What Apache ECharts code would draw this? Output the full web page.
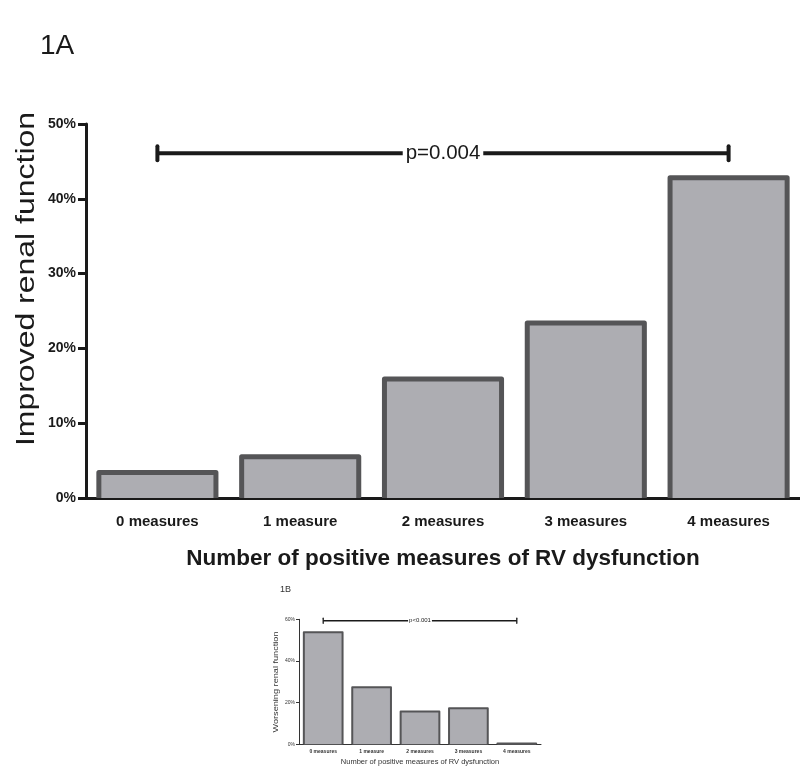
<!DOCTYPE html>
<html>
<head>
<meta charset="utf-8">
<script src="https://cdn.jsdelivr.net/npm/echarts@6/dist/echarts.min.js"></script>
<style>
html,body{margin:0;padding:0;background:#fff;}
#chart{width:800px;height:771px;}
</style>
</head>
<body>
<div id="chart"></div>
<script>
// ---- Data ----
const categoriesA = ['0 measures', '1 measure', '2 measures', '3 measures', '4 measures'];
const valuesA = [3.4, 5.5, 15.9, 23.4, 42.8];
const bracketA = [[0, 4, 46.1]];
const pLabelA = 'p=0.004';

const categoriesB = ['0 measures', '1 measure', '2 measures', '3 measures', '4 measures'];
const valuesB = [53.8, 27.4, 15.7, 17.3, 0.4];
const bracketB = [[0, 4, 59.3]];
const pLabelB = 'p<0.001';

const FONT = 'Liberation Sans, Arial, sans-serif';
const chart = echarts.init(document.getElementById('chart'), null, {renderer: 'canvas'});

function bracketRenderer(label, lw, cap, fontSize) {
  return function (params, api) {
    const p1 = api.coord([api.value(0), api.value(2)]);
    const p2 = api.coord([api.value(1), api.value(2)]);
    const y = p1[1];
    const mid = (p1[0] + p2[0]) / 2;
    const stroke = '#1a1a1a';
    return {
      type: 'group',
      children: [
        {type: 'line', shape: {x1: p1[0], y1: y, x2: p2[0], y2: y}, style: {stroke, lineWidth: lw}},
        {type: 'line', shape: {x1: p1[0], y1: y - cap, x2: p1[0], y2: y + cap}, style: {stroke, lineWidth: lw, lineCap: 'round'}},
        {type: 'line', shape: {x1: p2[0], y1: y - cap, x2: p2[0], y2: y + cap}, style: {stroke, lineWidth: lw, lineCap: 'round'}},
        {type: 'text', x: mid, y: y, style: {text: label, align: 'center', verticalAlign: 'middle',
          font: fontSize + 'px ' + FONT, fill: '#1a1a1a', backgroundColor: '#fff', padding: [0, Math.max(1, fontSize / 7)]}}
      ]
    };
  };
}

// open-bottom bar: fill + three-sided outline, positioned through the axes
function barRenderer(ratio, lw, r) {
  return function (params, api) {
    const base = api.coord([api.value(0), 0]);
    const top = api.coord([api.value(0), api.value(1)]);
    const w = api.size([1, 0])[0] * ratio;
    const x0 = base[0] - w / 2, x1 = base[0] + w / 2;
    return {
      type: 'group',
      children: [
        {type: 'rect', shape: {x: x0, y: top[1], width: w, height: base[1] - top[1], r: [r, r, 0, 0]},
          style: {fill: '#adadb2'}},
        {type: 'polyline', shape: {points: [[x0, base[1]], [x0, top[1]], [x1, top[1]], [x1, base[1]]]},
          style: {stroke: '#555557', lineWidth: lw, fill: null, lineJoin: 'round'}}
      ]
    };
  };
}

const option = {
  animation: false,
  backgroundColor: '#fff',
  grid: [
    {left: 86, top: 124, width: 720, height: 374},
    {left: 299, top: 619.3, width: 242, height: 125}
  ],
  xAxis: [
    {
      type: 'category', gridIndex: 0, data: categoriesA,
      axisLine: {lineStyle: {color: '#1a1a1a', width: 3}},
      axisTick: {alignWithLabel: true, length: 8, lineStyle: {color: '#1a1a1a', width: 3}},
      axisLabel: {interval: 0, margin: 16, color: '#1a1a1a', fontFamily: FONT, fontWeight: 'bold', fontSize: 15},
      name: 'Number of positive measures of RV dysfunction', nameLocation: 'middle', nameGap: 49,
      nameTextStyle: {color: '#1a1a1a', fontFamily: FONT, fontWeight: 'bold', fontSize: 22.5}
    },
    {
      type: 'category', gridIndex: 1, data: categoriesB,
      axisLine: {lineStyle: {color: '#333', width: 1}},
      axisTick: {alignWithLabel: true, length: 2, lineStyle: {color: '#333', width: 1}},
      axisLabel: {interval: 0, margin: 5, color: '#333', fontFamily: FONT, fontWeight: 'bold', fontSize: 5},
      name: 'Number of positive measures of RV dysfunction', nameLocation: 'middle', nameGap: 14,
      nameTextStyle: {color: '#333', fontFamily: FONT, fontSize: 7.5}
    }
  ],
  yAxis: [
    {
      type: 'value', gridIndex: 0, min: 0, max: 50, interval: 10,
      splitLine: {show: false},
      axisLine: {show: true, lineStyle: {color: '#1a1a1a', width: 3}},
      axisTick: {show: true, length: 8, lineStyle: {color: '#1a1a1a', width: 3}},
      axisLabel: {margin: 10, color: '#1a1a1a', fontFamily: FONT, fontWeight: 'bold', fontSize: 14, formatter: '{value}%'}
    },
    {
      type: 'value', gridIndex: 1, min: 0, max: 60, interval: 20,
      splitLine: {show: false},
      axisLine: {show: true, lineStyle: {color: '#333', width: 1}},
      axisTick: {show: true, length: 3, lineStyle: {color: '#333', width: 1}},
      axisLabel: {margin: 4, color: '#333', fontFamily: FONT, fontSize: 5, formatter: '{value}%'}
    }
  ],
  graphic: [
    {type: 'text', left: 40, top: 32, style: {text: '1A', font: '28px ' + FONT, fill: '#1a1a1a'}},
    {type: 'text', x: 27, y: 279, rotation: Math.PI / 2, scaleX: 1.23,
      style: {text: 'Improved renal function', font: '26px ' + FONT, fill: '#1a1a1a', align: 'center', verticalAlign: 'middle'}},
    {type: 'text', left: 280, top: 585, style: {text: '1B', font: '9px ' + FONT, fill: '#333'}},
    {type: 'text', x: 276, y: 682, rotation: Math.PI / 2, scaleX: 1.22,
      style: {text: 'Worsening renal function', font: '7.5px ' + FONT, fill: '#333', align: 'center', verticalAlign: 'middle'}}
  ],
  series: [
    {
      type: 'custom', xAxisIndex: 0, yAxisIndex: 0, data: valuesA.map((v, i) => [i, v]),
      encode: {x: 0, y: 1}, renderItem: barRenderer(0.82, 5, 3), z: 1
    },
    {
      type: 'custom', xAxisIndex: 0, yAxisIndex: 0, data: bracketA,
      renderItem: bracketRenderer(pLabelA, 4, 7, 20.5), z: 5
    },
    {
      type: 'custom', xAxisIndex: 1, yAxisIndex: 1, data: valuesB.map((v, i) => [i, v]),
      encode: {x: 0, y: 1}, renderItem: barRenderer(0.8, 2, 1), z: 1
    },
    {
      type: 'custom', xAxisIndex: 1, yAxisIndex: 1, data: bracketB,
      renderItem: bracketRenderer(pLabelB, 1.3, 2.5, 6), z: 5
    }
  ]
};
chart.setOption(option);
</script>
</body>
</html>
